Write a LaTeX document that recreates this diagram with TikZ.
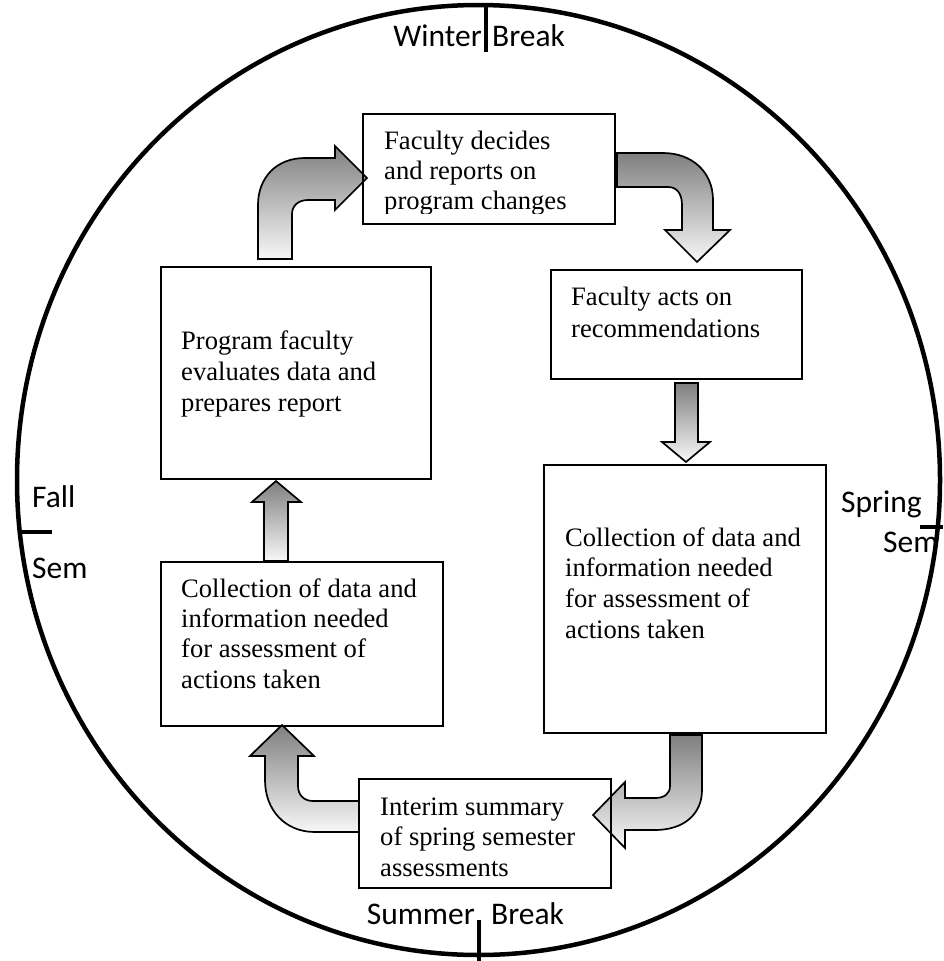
\documentclass[tikz,border=0pt]{standalone}
\usepackage{fontspec}
\setmainfont{Liberation Serif}
\newfontfamily\calibfont{Carlito}
\begin{document}
\begin{tikzpicture}[x=1pt, y=-1pt, line join=miter,
  boxstyle/.style={draw, line width=1.8pt, anchor=north west, outer sep=0pt, inner sep=0pt},
  txt/.style={anchor=north west, inner sep=0pt, align=left, font=\fontsize{26.6}{30.7}\selectfont},
  lab/.style={inner sep=0pt, font=\calibfont\fontsize{31.5}{36}\selectfont},
  tickline/.style={line width=4pt},
  blockarrow/.style={draw, line width=1.7pt, top color=black!50, bottom color=white!97!black}]
\useasboundingbox (0,0) rectangle (943,961);

% outer ring
\draw[line width=4.5pt] (478.5,480) ellipse [x radius=461.5pt, y radius=475pt];

% season ticks and labels
\draw[tickline] (486,3) -- (486,52);
\draw[tickline] (479,920) -- (479,961);
\draw[tickline] (22,532) -- (52,532);
\draw[tickline] (920,527) -- (943,527);
\node[lab, anchor=base east] (winter) at (482,46) {Winter};
\node[lab, anchor=base west] (wbreak) at (492,46) {Break};
\node[lab, anchor=base east] (summer) at (475,924) {Summer};
\node[lab, anchor=base west] (sbreak) at (491,924) {Break};
\node[lab, anchor=base west] (fall) at (32,507) {Fall};
\node[lab, anchor=base west] (fsem) at (32,578) {Sem};
\node[lab, anchor=base east] (spring) at (922,512) {Spring};
\node[lab, anchor=base west] (ssem) at (883,552) {Sem};

% block arrows
% A: up then right (into b1)
\path[blockarrow] (258,259) -- (258,205) .. controls (258,178) and (276,158) .. (305,158)
  -- (335,158) -- (335,146) -- (367,178) -- (335,210) -- (335,200) -- (308,200)
  .. controls (298,200) and (292,206) .. (292,214) -- (292,259) -- cycle;
% B: right then down (b1 to b2)
\path[blockarrow] (617,153) -- (663,153) .. controls (692,153) and (713,172) .. (713,200)
  -- (713,230) -- (730,230) -- (697,262) -- (665,230) -- (682,230) -- (682,205)
  .. controls (682,194) and (677,187) .. (668,187) -- (617,187) -- cycle;
% F: straight down (b2 to b3)
\path[blockarrow] (675,383) -- (698,383) -- (698,442) -- (710,442) -- (686,462)
  -- (662,442) -- (675,442) -- cycle;
% C: down then left (b3 to b6)
\path[blockarrow] (670,735) -- (702,735) -- (702,790) .. controls (702,814) and (684,830) .. (655,830)
  -- (625,830) -- (625,848) -- (593,815) -- (625,782) -- (625,798) -- (655,798)
  .. controls (664,798) and (670,794) .. (670,786) -- cycle;
% D: left then up (b6 to b5)
\path[blockarrow] (359,801) -- (313,801) .. controls (304,801) and (298,795) .. (298,786)
  -- (298,756) -- (314,756) -- (282,725) -- (250,756) -- (265,756) -- (265,780)
  .. controls (265,810) and (285,832) .. (315,832) -- (359,832) -- cycle;
% E: straight up (b5 to b4)
\path[blockarrow] (264,561) -- (264,502) -- (252,502) -- (276,481) -- (301,502)
  -- (288,502) -- (288,561) -- cycle;

% boxes
\node[boxstyle, minimum width=252pt, minimum height=110pt] (b1) at (363,114) {};
\node[boxstyle, minimum width=251pt, minimum height=109pt] (b2) at (551,270) {};
\node[boxstyle, minimum width=282pt, minimum height=268pt] (b3) at (544,465) {};
\node[boxstyle, minimum width=270pt, minimum height=212pt] (b4) at (161,267) {};
\node[boxstyle, minimum width=282pt, minimum height=164pt] (b5) at (161,562) {};
\node[boxstyle, minimum width=252pt, minimum height=109pt] (b6) at (359,779) {};

% texts
\begin{scope}
\clip (363,114) rectangle (615,213);
\node[txt, font=\fontsize{26.6}{30}\selectfont] (t1) at (384,129) {\rule{0pt}{20pt}Faculty decides\\and reports on\\program changes};
\end{scope}
\node[txt, font=\fontsize{26.6}{32}\selectfont] (t2) at (571,285) {\rule{0pt}{20pt}Faculty acts on\\recommendations};
\node[txt] (t3) at (565,526) {\rule{0pt}{20pt}Collection of data and\\information needed\\for assessment of\\actions taken};
\node[txt, font=\fontsize{26.6}{31}\selectfont] (t4) at (181,329) {\rule{0pt}{20pt}Program faculty\\evaluates data and\\prepares report};
\node[txt, font=\fontsize{26.6}{30.3}\selectfont] (t5) at (181,577) {\rule{0pt}{20pt}Collection of data and\\information needed\\for assessment of\\actions taken};
\node[txt, font=\fontsize{26.6}{30.5}\selectfont] (t6) at (380,795) {\rule{0pt}{20pt}Interim summary\\of spring semester\\assessments};
\end{tikzpicture}
\end{document}
